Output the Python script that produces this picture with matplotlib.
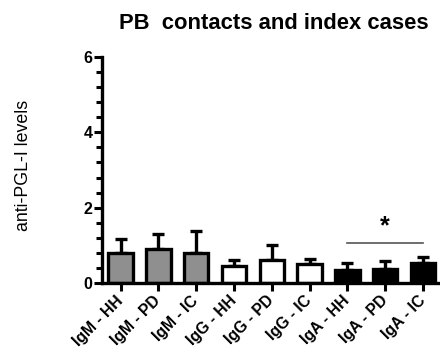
import matplotlib
matplotlib.use("Agg")
import matplotlib.pyplot as plt
import numpy as np
from matplotlib.ticker import MultipleLocator

plt.rcParams["font.family"] = ["Liberation Sans", "DejaVu Sans"]

# Data
labels = ["IgM - HH", "IgM - PD", "IgM - IC",
          "IgG - HH", "IgG - PD", "IgG - IC",
          "IgA - HH", "IgA - PD", "IgA - IC"]
means = [0.81, 0.90, 0.81, 0.46, 0.60, 0.51, 0.35, 0.38, 0.52]
upper = [1.18, 1.29, 1.39, 0.62, 1.00, 0.63, 0.53, 0.59, 0.69]
colors = ["#8f8f8f"] * 3 + ["white"] * 3 + ["black"] * 3
sig_pair = (6, 8)
sig_y = 1.07

fig = plt.figure(figsize=(4.4, 3.52), dpi=100)
ax = fig.add_axes([0.232, 0.196, 0.768, 0.642])

x = np.arange(len(labels))
err = np.array(upper) - np.array(means)
ax.bar(x, means, width=0.65, color=colors, edgecolor="black", linewidth=2.4, zorder=2)
ax.errorbar(x, means, yerr=[np.zeros_like(err), err], fmt="none", ecolor="black",
            elinewidth=2.4, capsize=4.5, capthick=2.4, zorder=1)

# significance bar
ax.plot([sig_pair[0], sig_pair[1]], [sig_y, sig_y], color="#555555", lw=1.2)
ax.text((sig_pair[0] + sig_pair[1]) / 2, sig_y + 0.12, "*", ha="center", va="bottom",
        fontsize=18, fontweight="bold")

ax.set_xlim(-0.49, 8.45)
ax.set_ylim(0, 6)
ax.yaxis.set_major_locator(MultipleLocator(2))
ax.yaxis.set_minor_locator(MultipleLocator(0.4))
ax.set_xticks(x)
ax.set_xticklabels(labels, rotation=45, ha="right", va="center", rotation_mode="anchor",
                   fontsize=11.3, fontweight="bold")
for t in ax.get_yticklabels():
    t.set_fontweight("bold")
    t.set_fontsize(11.5)

ax.tick_params(axis="y", which="major", length=6, width=2.2, pad=1)
ax.tick_params(axis="y", which="minor", length=4, width=2.2)
ax.tick_params(axis="x", which="major", length=6, width=2.2, pad=5)

for s in ["top", "right"]:
    ax.spines[s].set_visible(False)
for s in ["left", "bottom"]:
    ax.spines[s].set_linewidth(2.4)

ax.set_ylabel("anti-PGL-I levels", fontsize=12.8)
ax.yaxis.set_label_coords(-0.207, 0.522)
fig.text(0.623, 0.932, "PB  contacts and index cases", ha="center", va="center",
         fontsize=15.8, fontweight="bold")

fig.savefig("out.png", dpi=100)
